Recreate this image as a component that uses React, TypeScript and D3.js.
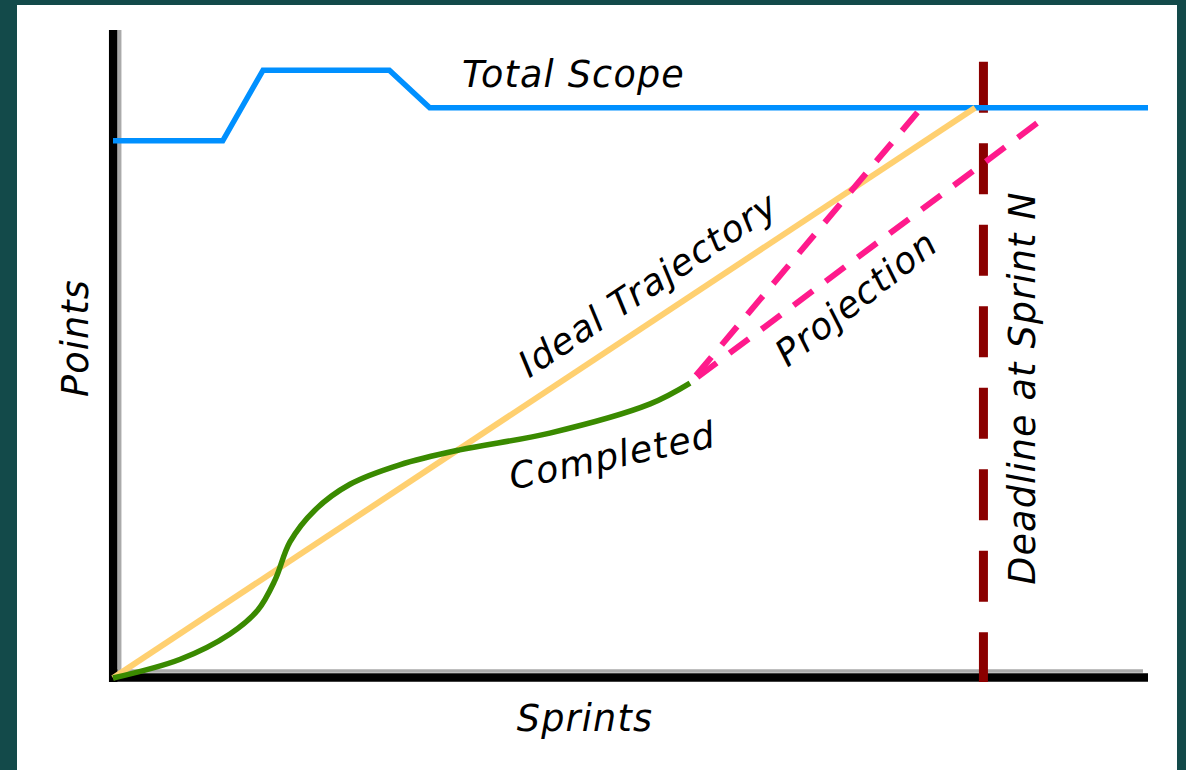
import React from "react";
import * as d3 from "d3";

// ---- data (x: sprint progress 0-100, y: points 0-100) ----
const scopeX = [0, 10.6, 14.5, 26.7, 30.6, 100];
const scopeY = [82.9, 82.9, 93.8, 93.8, 88, 88];

const idealX = [0, 83.3];
const idealY = [0, 88];

const completedX = [0, 6.5, 11.3, 14.0, 15.65, 17.1, 19.5, 22.9, 27.7, 33.5, 42.2, 51.9, 55.75];
const completedY = [0, 2.9, 6.8, 10.5, 15.1, 21.0, 25.9, 29.9, 32.9, 35.2, 37.8, 42.3, 45.5];

const projFastX = [55.7, 78.1];
const projFastY = [45.5, 88];
const projSlowX = [55.7, 89.6];
const projSlowY = [45.5, 86];

const deadlineX = 84.1;
const deadlineY = [-0.6, 95.1];

const labels = {
  scope: "Total Scope",
  ideal: "Ideal Trajectory",
  completed: "Completed",
  projection: "Projection",
  deadline: "Deadline at Sprint N",
  xTitle: "Sprints",
  yTitle: "Points",
};

const W = 1186;
const H = 770;

export default function App() {
  const x = d3.scaleLinear().domain([0, 100]).range([113, 1148]);
  const y = d3.scaleLinear().domain([0, 100]).range([678, 30]);

  const pts = (xs: number[], ys: number[]) => xs.map((v, i) => [v, ys[i]] as [number, number]);

  const linear = d3
    .line<[number, number]>()
    .x((d) => x(d[0]))
    .y((d) => y(d[1]));
  const smooth = d3
    .line<[number, number]>()
    .x((d) => x(d[0]))
    .y((d) => y(d[1]))
    .curve(d3.curveCatmullRom.alpha(0.5));

  const font = "'DejaVu Sans', sans-serif";
  const fs = 36.5;
  const textStyle = {
    fontFamily: font,
    fontStyle: "italic" as const,
    fontSize: fs,
    fill: "#000",
    letterSpacing: 1.2,
  };

  const x0 = x(0);
  const y0 = y(0);

  return (
    <svg
      width={W}
      height={H}
      style={{ position: "absolute", left: 0, top: 0, display: "block" }}
    >
      <rect x={0} y={0} width={W} height={H} fill="#134A4A" />
      <rect x={17} y={5} width={1160} height={765} fill="#ffffff" />

      {/* axes */}
      <line x1={x0 + 6.7} x2={x0 + 6.7} y1={y(100)} y2={y0 - 7} stroke="#aaaaaa" strokeWidth={3.5} />
      <line x1={x0 + 4} x2={x(100) - 5} y1={y0 - 7} y2={y0 - 7} stroke="#aaaaaa" strokeWidth={3.5} />
      <line x1={x0 + 0.2} x2={x0 + 0.2} y1={y(100)} y2={y0 + 4} stroke="#000" strokeWidth={8.5} />
      <line x1={x0 - 4} x2={x(100)} y1={y0 - 0.5} y2={y0 - 0.5} stroke="#000" strokeWidth={8.5} />

      {/* deadline */}
      <line
        x1={x(deadlineX)}
        x2={x(deadlineX)}
        y1={y(deadlineY[1])}
        y2={y(deadlineY[0])}
        stroke="#8B0000"
        strokeWidth={9}
        strokeDasharray="51 30.5"
      />

      {/* scope */}
      <path d={linear(pts(scopeX, scopeY)) || ""} fill="none" stroke="#0090FF" strokeWidth={5.5} />

      {/* ideal */}
      <path d={linear(pts(idealX, idealY)) || ""} fill="none" stroke="#FFD070" strokeWidth={6} />

      {/* completed */}
      <path d={smooth(pts(completedX, completedY)) || ""} fill="none" stroke="#3A8A00" strokeWidth={5.5} />

      {/* projections */}
      <path
        d={linear(pts(projFastX, projFastY)) || ""}
        fill="none"
        stroke="#FF1A8C"
        strokeWidth={6}
        strokeDasharray="24 16"
        strokeDashoffset={30}
      />
      <path
        d={linear(pts(projSlowX, projSlowY)) || ""}
        fill="none"
        stroke="#FF1A8C"
        strokeWidth={6}
        strokeDasharray="24 16"
        strokeDashoffset={30}
      />

      {/* labels */}
      <text x={462} y={87} style={textStyle}>
        {labels.scope}
      </text>
      <text x={585} y={731} textAnchor="middle" style={textStyle}>
        {labels.xTitle}
      </text>
      <text transform="translate(88,338) rotate(-90)" textAnchor="middle" style={textStyle}>
        {labels.yTitle}
      </text>
      <text transform="translate(615,468) rotate(-12)" textAnchor="middle" style={textStyle}>
        {labels.completed}
      </text>
      <text transform="translate(655,295) rotate(-33.5)" textAnchor="middle" style={textStyle}>
        {labels.ideal}
      </text>
      <text transform="translate(864,308) rotate(-38)" textAnchor="middle" style={textStyle}>
        {labels.projection}
      </text>
      <text transform="translate(1035,388) rotate(-90)" textAnchor="middle" style={textStyle}>
        {labels.deadline}
      </text>
    </svg>
  );
}
